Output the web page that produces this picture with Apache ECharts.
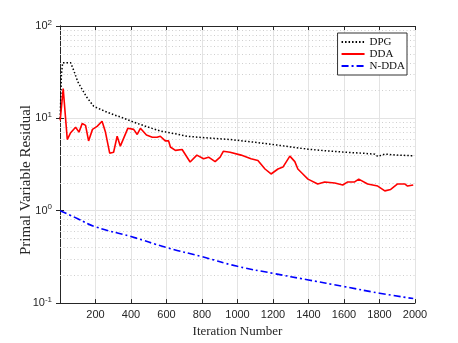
<!DOCTYPE html>
<html>
<head>
<meta charset="utf-8">
<script src="https://cdn.jsdelivr.net/npm/echarts@6/dist/echarts.min.js"></script>
<style>
  html, body { margin: 0; padding: 0; background: #fff; }
  #chart { width: 458px; height: 343px; }
</style>
</head>
<body>
<div id="chart"></div>
<script>
// iteration / value pairs
var dpgIter = [1, 8, 15, 60, 80, 100, 116, 150, 190, 250, 300, 350, 415, 500, 565, 650, 715, 800, 960, 1100, 1189, 1300, 1397, 1500, 1605, 1700, 1773, 1790, 1830, 1900, 1990];
var dpgVal  = [10, 30, 40, 40, 32, 25, 22, 17, 13.5, 12, 11, 10.2, 9.1, 8, 7.3, 6.8, 6.4, 6.2, 5.9, 5.5, 5.25, 4.9, 4.64, 4.45, 4.3, 4.2, 4.1, 3.87, 4.1, 4.0, 3.94];

var ddaIter = [1, 18, 41, 60, 88, 107, 125, 144, 161, 183, 209, 237, 256, 280, 302, 322, 340, 382, 415, 435, 453, 487, 520, 547, 565, 593, 612, 622, 650, 688, 733, 771, 809, 837, 874, 902, 920, 958, 1020, 1076, 1115, 1155, 1189, 1228, 1256, 1295, 1323, 1340, 1368, 1397, 1452, 1491, 1548, 1593, 1621, 1660, 1683, 1733, 1790, 1830, 1863, 1902, 1942, 1958, 1990];
var ddaVal  = [9.5, 21, 5.9, 7, 8, 7.1, 8.8, 8.4, 5.7, 7.6, 8.2, 9.3, 7.1, 4.2, 4.3, 6.4, 5.0, 7.8, 7.6, 6.7, 7.8, 6.6, 6.25, 6.25, 6.4, 5.7, 5.7, 4.9, 4.5, 4.6, 3.37, 4.0, 3.65, 3.8, 3.4, 3.8, 4.4, 4.3, 4.0, 3.65, 3.5, 2.83, 2.5, 2.83, 2.97, 3.9, 3.4, 2.83, 2.5, 2.2, 1.95, 2.05, 2.0, 1.9, 2.05, 2.05, 2.2, 1.95, 1.85, 1.64, 1.7, 1.95, 1.95, 1.85, 1.9];

var nddaIter = [1, 100, 200, 400, 600, 800, 1000, 1200, 1400, 1600, 1800, 1990];
var nddaVal  = [1.0, 0.82, 0.67, 0.525, 0.40, 0.318, 0.25, 0.21, 0.178, 0.151, 0.128, 0.112];

var minorGrid = [0.2, 0.3, 0.4, 0.5, 0.6, 0.7, 0.8, 0.9, 2, 3, 4, 5, 6, 7, 8, 9, 20, 30, 40, 50, 60, 70, 80, 90];

function pairs(xs, ys) {
    var res = [];
    for (var i = 0; i < xs.length; i++) {
        res.push([xs[i], ys[i]]);
    }
    return res;
}

var axisColor = '#262626';
var gridColor = '#e3e3e3';

var option = {
    backgroundColor: '#fff',
    animation: false,
    grid: { left: 60, right: 43, top: 26, bottom: 38 },
    // y axis title placed by hand, v6 keeps pushing the axis name off
    graphic: [{
        type: 'text',
        x: 26,
        y: 180,
        rotation: Math.PI / 2,
        silent: true,
        style: {
            text: 'Primal Variable Residual',
            font: '15px "Liberation Serif"',
            fill: axisColor,
            align: 'center',
            verticalAlign: 'middle'
        }
    }],
    legend: {
        orient: 'vertical',
        right: 51,
        top: 33,
        itemWidth: 23,
        itemHeight: 8,
        itemGap: 0,
        padding: [3, 2, 3, 3],
        borderColor: '#333',
        borderWidth: 1,
        backgroundColor: '#fff',
        itemStyle: { opacity: 0 },
        textStyle: { fontFamily: 'Liberation Serif', fontSize: 11, lineHeight: 12, color: '#111' },
        data: ['DPG', 'DDA', 'N-DDA']
    },
    xAxis: [{
        type: 'value',
        min: 0,
        max: 2000,
        interval: 200,
        name: 'Iteration Number',
        nameLocation: 'middle',
        nameGap: 19,
        nameTextStyle: { fontFamily: 'Liberation Serif', fontSize: 13, color: axisColor },
        axisLine: { lineStyle: { color: axisColor } },
        axisTick: { inside: true, length: 4, lineStyle: { color: axisColor } },
        axisLabel: {
            fontFamily: 'Liberation Sans', fontSize: 11, color: axisColor, margin: 6,
            formatter: function (v) { return v === 0 ? '' : String(v); }
        },
        splitLine: { show: true, lineStyle: { color: gridColor, width: 1 } }
    }, {
        type: 'value',
        position: 'top',
        min: 0,
        max: 2000,
        interval: 200,
        axisLine: { show: true, lineStyle: { color: axisColor } },
        axisTick: { inside: true, length: 4, lineStyle: { color: axisColor } },
        axisLabel: { show: false },
        splitLine: { show: false }
    }],
    yAxis: [{
        type: 'log',
        logBase: 10,
        min: 0.1,
        max: 100,
        axisLine: { show: true, lineStyle: { color: axisColor } },
        axisTick: { inside: true, length: 4, lineStyle: { color: axisColor } },
        axisLabel: {
            margin: 8,
            formatter: function (v) {
                var e = Math.round(Math.log(v) / Math.LN10);
                return '{b|10}{s|' + e + '}';
            },
            rich: {
                b: { fontFamily: 'Liberation Sans', fontSize: 11, color: axisColor },
                s: { fontFamily: 'Liberation Sans', fontSize: 8, color: axisColor, padding: [0, 0, 7, 0] }
            }
        },
        splitLine: { show: true, lineStyle: { color: gridColor, width: 1 } }
    }, {
        type: 'log',
        logBase: 10,
        min: 0.1,
        max: 100,
        position: 'right',
        axisLine: { show: true, lineStyle: { color: axisColor } },
        axisTick: { inside: true, length: 4, lineStyle: { color: axisColor } },
        axisLabel: { show: false },
        splitLine: { show: false }
    }],
    series: [{
        name: 'DPG',
        type: 'line',
        data: pairs(dpgIter, dpgVal),
        showSymbol: false,
        symbol: 'none',
        itemStyle: { color: '#000' },
        lineStyle: { color: '#000', width: 1.5, type: [1.5, 2] },
        z: 3
    }, {
        name: 'DDA',
        type: 'line',
        data: pairs(ddaIter, ddaVal),
        showSymbol: false,
        symbol: 'none',
        itemStyle: { color: '#ff0000' },
        lineStyle: { color: '#ff0000', width: 1.6 },
        z: 4
    }, {
        name: 'N-DDA',
        type: 'line',
        data: pairs(nddaIter, nddaVal),
        showSymbol: false,
        symbol: 'none',
        smooth: true,
        itemStyle: { color: '#0000ff' },
        lineStyle: { color: '#0000ff', width: 1.6, type: [7, 3, 2, 3] },
        z: 5,
        markLine: {
            silent: true,
            symbol: 'none',
            label: { show: false },
            lineStyle: { color: '#cfcfcf', width: 1, type: [1, 2.5] },
            data: minorGrid.map(function (v) { return { yAxis: v }; }),
            z: 1
        }
    }]
};

var chart = echarts.init(document.getElementById('chart'));
chart.setOption(option);
</script>
</body>
</html>
